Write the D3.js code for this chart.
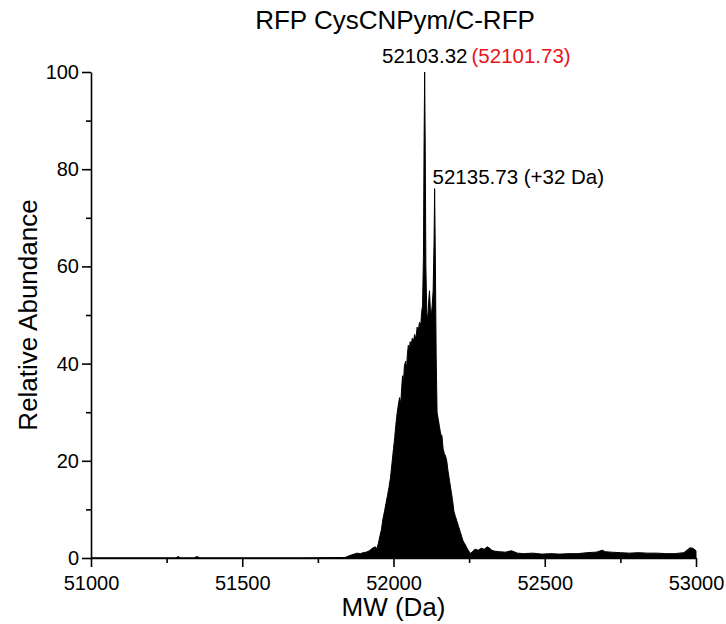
<!DOCTYPE html>
<html>
<head>
<meta charset="utf-8">
<script src="https://cdn.jsdelivr.net/npm/d3@7"></script>
<style>
  body { margin: 0; background: #fff; }
  svg { display: block; font-family: Arial, 'Liberation Sans', sans-serif; }
</style>
</head>
<body>
<svg id="chart" width="726" height="624"></svg>
<script>
// deconvoluted spectrum (MW in Da, relative abundance in %)
const mw = [
  51000, 51280, 51288, 51296, 51340, 51350, 51360, 51700, 51840, 51855,
  51870, 51880, 51890, 51900, 51910, 51920, 51930, 51940, 51945, 51950,
  51955, 51960, 51965, 51970, 51975, 51980, 51985, 51990, 51995, 52000,
  52004, 52008, 52012, 52016, 52020, 52024, 52027, 52030, 52033, 52036,
  52040, 52043, 52046, 52049, 52052, 52055, 52058, 52062, 52066, 52070,
  52074, 52078, 52082, 52086, 52090, 52093, 52096, 52099, 52101, 52103,
  52105, 52107, 52110, 52113, 52116, 52119, 52122, 52125, 52128, 52131,
  52134, 52136, 52138, 52141, 52144, 52148, 52152, 52156, 52160, 52164,
  52168, 52172, 52176, 52180, 52185, 52190, 52195, 52200, 52205, 52210,
  52215, 52220, 52225, 52230, 52235, 52240, 52245, 52250, 52255, 52260,
  52265, 52270, 52280, 52290, 52300, 52310, 52318, 52325, 52335, 52350,
  52370, 52390, 52410, 52430, 52460, 52490, 52520, 52550, 52580, 52610,
  52640, 52670, 52690, 52700, 52720, 52750, 52780, 52810, 52840, 52870,
  52900, 52930, 52960, 52980, 52990, 53000
];
const abundance = [
  0, 0, 0.3, 0, 0, 0.3, 0, 0, 0.1, 0.5,
  0.8, 1.0, 0.9, 1.1, 1.2, 1.5, 2.0, 2.3, 1.9, 3.0,
  4.5, 5.8, 8.0, 9.5, 11.2, 12.8, 14.5, 16.5, 19.5, 22.5,
  24.8, 27.5, 29.8, 31.5, 33.0, 31.8, 35.0, 37.5, 36.2, 39.5,
  40.5, 38.8, 42.0, 43.8, 42.5, 44.5, 43.6, 45.2, 44.6, 46.0,
  45.0, 47.5, 46.8, 48.5, 47.8, 50.5, 52.0, 62, 85, 100,
  84, 60, 50.5, 49.0, 52.5, 55.0, 51.0, 50.0, 52.0, 55.0,
  65, 76, 64, 42, 30, 28.5, 27.0, 25.5, 25.2, 22.5,
  21.5, 21.0, 20.0, 18.0, 16.0, 14.0, 12.0, 9.5, 8.5, 7.5,
  6.5, 5.5, 4.5, 3.5, 3.0, 2.4, 1.8, 1.3, 1.0, 1.2,
  1.6, 1.8, 1.6, 2.0, 1.8, 2.3, 2.0, 1.6, 1.4, 1.3,
  1.2, 1.5, 1.0, 0.9, 1.0, 0.8, 0.9, 0.8, 0.9, 0.9,
  1.1, 1.2, 1.6, 1.3, 1.2, 1.1, 1.0, 1.1, 1.0, 1.0,
  0.9, 0.9, 1.1, 2.1, 2.0, 1.5
];

const xMajor = [51000, 51500, 52000, 52500, 53000];
const xMinor = [51250, 51750, 52250, 52750];
const yMajor = [0, 20, 40, 60, 80, 100];
const yMinor = [10, 30, 50, 70, 90];

const peakMain = 52103.32, peakMainLabel = '52103.32', peakCalcLabel = '(52101.73)';
const peakOx = 52135.73, peakOxLabel = '52135.73 (+32 Da)', peakOxValue = 76;

const svg = d3.select('#chart');
const mLeft = 91, mRight = 696, mTop = 72, mBottom = 558;

const x = d3.scaleLinear().domain([51000, 53000]).range([mLeft, mRight]);
const y = d3.scaleLinear().domain([0, 100]).range([mBottom, mTop]);

const pts = mw.map((m, i) => [m, abundance[i]]);

// spectrum
svg.append('path')
  .datum(pts)
  .attr('d', d3.area().x(d => x(d[0])).y0(y(0)).y1(d => y(d[1])))
  .attr('fill', '#000')
  .attr('stroke', '#000')
  .attr('stroke-width', 1);

// axes
const xAxis = svg.append('g').attr('transform', `translate(0,${mBottom})`)
  .call(d3.axisBottom(x).tickValues(xMajor).tickFormat(d3.format('d')).tickSize(9).tickSizeOuter(0));
svg.append('g').attr('transform', `translate(0,${mBottom})`)
  .call(d3.axisBottom(x).tickValues(xMinor).tickFormat('').tickSize(5).tickSizeOuter(0))
  .select('.domain').remove();

const yAxis = svg.append('g').attr('transform', `translate(${mLeft},0)`)
  .call(d3.axisLeft(y).tickValues(yMajor).tickSize(9).tickSizeOuter(0));
svg.append('g').attr('transform', `translate(${mLeft},0)`)
  .call(d3.axisLeft(y).tickValues(yMinor).tickFormat('').tickSize(5).tickSizeOuter(0))
  .select('.domain').remove();

svg.selectAll('.domain, .tick line').attr('stroke', '#000').attr('stroke-width', 1.6);
xAxis.selectAll('text').attr('font-size', 20).attr('font-family', null).attr('fill', '#000').attr('dy', '1.0em');
yAxis.selectAll('text').attr('font-size', 20).attr('font-family', null).attr('fill', '#000').attr('x', -12);

// titles
svg.append('text').attr('x', 395).attr('y', 29).attr('text-anchor', 'middle')
  .attr('font-size', 26).text('RFP CysCNPym/C-RFP');
svg.append('text').attr('x', (mLeft + mRight) / 2).attr('y', 616).attr('text-anchor', 'middle')
  .attr('font-size', 26).text('MW (Da)');
svg.append('text')
  .attr('transform', `translate(37,${(mTop + mBottom) / 2}) rotate(-90)`)
  .attr('text-anchor', 'middle').attr('font-size', 26).text('Relative Abundance');

// peak annotations
const a1 = svg.append('text').attr('y', 63).attr('font-size', 20.5);
const t1 = a1.append('tspan').attr('fill', '#000').text(peakMainLabel);
a1.append('tspan').attr('fill', '#e8141c').attr('dx', 4).text(peakCalcLabel);
const w1 = t1.node().getComputedTextLength();
a1.attr('x', x(peakMain) - w1 / 2);

svg.append('text').attr('x', x(peakOx) - 2).attr('y', y(peakOxValue) - 5)
  .attr('font-size', 20.5).attr('fill', '#000').text(peakOxLabel);
</script>
</body>
</html>
